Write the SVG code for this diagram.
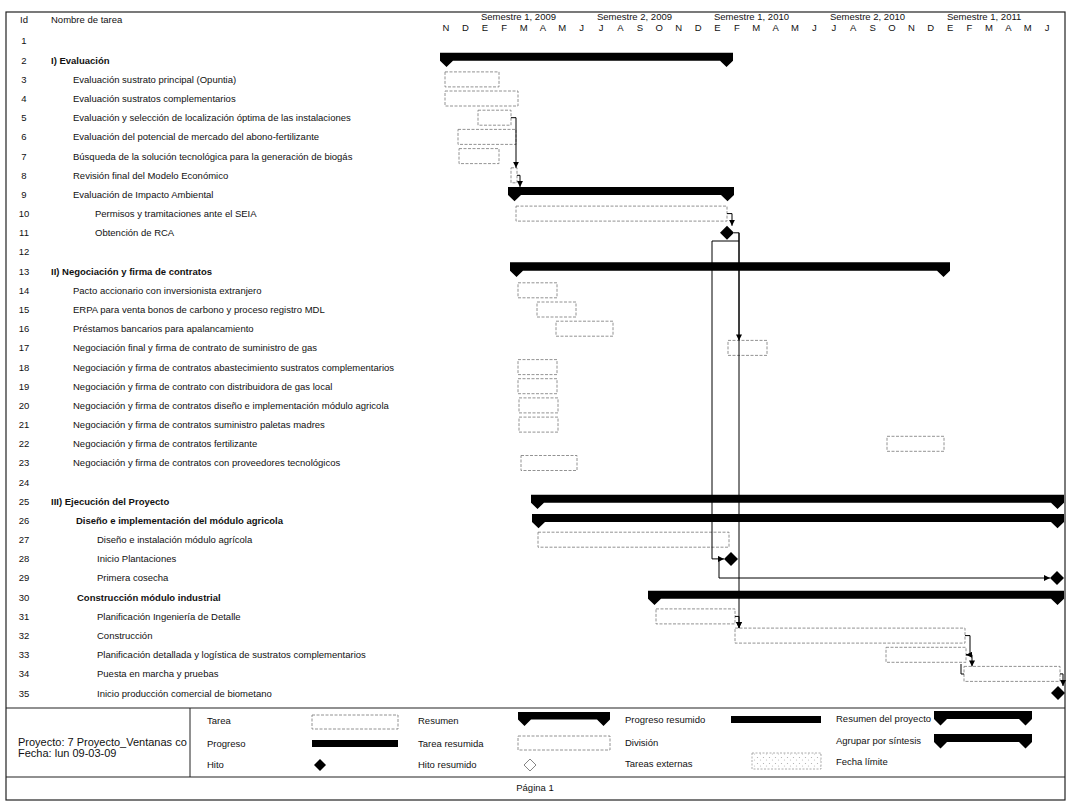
<svg xmlns="http://www.w3.org/2000/svg" width="1071" height="809" viewBox="0 0 1071 809">
<style>
.t{font-family:"Liberation Sans",Arial,sans-serif;font-size:9.5px;fill:#111}
.b{font-weight:bold}
.id{text-anchor:middle}
.hd{font-family:"Liberation Sans",Arial,sans-serif;font-size:9.5px;fill:#111}
.mo{font-family:"Liberation Sans",Arial,sans-serif;font-size:9.5px;fill:#111;text-anchor:middle}
.pj{font-family:"Liberation Sans",Arial,sans-serif;font-size:11px;fill:#111}
.task{fill:none;stroke:#777;stroke-width:0.8;stroke-dasharray:3 1.5}
.sum{fill:#000}
.ms{fill:#000}
.lnk{fill:none;stroke:#000;stroke-width:1}
.frame{fill:none;stroke:#222;stroke-width:1.2}
</style>
<defs>
<marker id="ar" viewBox="0 0 6 6" refX="6" refY="3" markerWidth="6" markerHeight="6" orient="auto" markerUnits="userSpaceOnUse"><path d="M0,0 L6,3 L0,6 z" fill="#000"/></marker>
<pattern id="hatch" width="6" height="6" patternUnits="userSpaceOnUse"><rect width="6" height="6" fill="#fff"/><circle cx="1.5" cy="1.5" r="0.6" fill="#aaa"/><circle cx="4.5" cy="4" r="0.6" fill="#bbb"/></pattern>
</defs>
<rect width="1071" height="809" fill="#fff"/>
<rect class="frame" x="6" y="12" width="1059" height="788"/>

<g id="header">
<text class="hd" x="20" y="23">Id</text>
<text class="hd" x="51" y="23">Nombre de tarea</text>
<text class="hd" x="481" y="20">Semestre 1, 2009</text>
<text class="hd" x="597" y="20">Semestre 2, 2009</text>
<text class="hd" x="714" y="20">Semestre 1, 2010</text>
<text class="hd" x="830" y="20">Semestre 2, 2010</text>
<text class="hd" x="947" y="20">Semestre 1, 2011</text>
<text class="mo" x="446" y="31">N</text><text class="mo" x="465.4" y="31">D</text><text class="mo" x="484.8" y="31">E</text><text class="mo" x="504.2" y="31">F</text><text class="mo" x="523.6" y="31">M</text><text class="mo" x="542.9" y="31">A</text><text class="mo" x="562.3" y="31">M</text><text class="mo" x="581.7" y="31">J</text>
<text class="mo" x="601.1" y="31">J</text><text class="mo" x="620.5" y="31">A</text><text class="mo" x="639.9" y="31">S</text><text class="mo" x="659.3" y="31">O</text><text class="mo" x="678.7" y="31">N</text><text class="mo" x="698.1" y="31">D</text>
<text class="mo" x="717.5" y="31">E</text><text class="mo" x="736.8" y="31">F</text><text class="mo" x="756.2" y="31">M</text><text class="mo" x="775.6" y="31">A</text><text class="mo" x="795" y="31">M</text><text class="mo" x="814.4" y="31">J</text>
<text class="mo" x="833.8" y="31">J</text><text class="mo" x="853.2" y="31">A</text><text class="mo" x="872.6" y="31">S</text><text class="mo" x="892" y="31">O</text><text class="mo" x="911.4" y="31">N</text><text class="mo" x="930.7" y="31">D</text>
<text class="mo" x="950.1" y="31">E</text><text class="mo" x="969.5" y="31">F</text><text class="mo" x="988.9" y="31">M</text><text class="mo" x="1008.3" y="31">A</text><text class="mo" x="1027.7" y="31">M</text><text class="mo" x="1047.1" y="31">J</text>
</g>

<g id="task-1"><text class="t id" x="24" y="44.4">1</text></g>
<g id="task-2"><text class="t id" x="24" y="63.6">2</text><text class="t b" x="51" y="63.6">I) Evaluación</text>
<path class="sum" d="M440,52.7 H733 V60.7 L726.5,67 L720,60.7 H453 L446.5,67 L440,60.7 Z"/></g>
<g id="task-3"><text class="t id" x="24" y="82.8">3</text><text class="t" x="73" y="82.8">Evaluación sustrato principal (Opuntia)</text><rect class="task" x="445" y="71.9" width="54" height="15"/></g>
<g id="task-4"><text class="t id" x="24" y="101.9">4</text><text class="t" x="73" y="101.9">Evaluación sustratos complementarios</text><rect class="task" x="445" y="91" width="73" height="15"/></g>
<g id="task-5"><text class="t id" x="24" y="121.1">5</text><text class="t" x="73" y="121.1">Evaluación y selección de localización óptima de las instalaciones</text><rect class="task" x="478" y="110.2" width="33" height="15"/></g>
<g id="task-6"><text class="t id" x="24" y="140.3">6</text><text class="t" x="73" y="140.3">Evaluación del potencial de mercado del abono-fertilizante</text><rect class="task" x="458" y="129.4" width="58" height="15"/></g>
<g id="task-7"><text class="t id" x="24" y="159.5">7</text><text class="t" x="73" y="159.5">Búsqueda de la solución tecnológica para la generación de biogás</text><rect class="task" x="459" y="148.6" width="40" height="15"/></g>
<g id="task-8"><text class="t id" x="24" y="178.7">8</text><text class="t" x="73" y="178.7">Revisión final del Modelo Económico</text><rect class="task" x="511" y="167.8" width="6" height="15"/></g>
<g id="task-9"><text class="t id" x="24" y="197.8">9</text><text class="t" x="73" y="197.8">Evaluación de Impacto Ambiental</text>
<path class="sum" d="M508,186.9 H734 V194.9 L727.5,201.2 L721,194.9 H521 L514.5,201.2 L508,194.9 Z"/></g>
<g id="task-10"><text class="t id" x="24" y="217">10</text><text class="t" x="95" y="217">Permisos y tramitaciones ante el SEIA</text><rect class="task" x="516" y="206.1" width="211" height="15"/></g>
<g id="task-11"><text class="t id" x="24" y="236.2">11</text><text class="t" x="95" y="236.2">Obtención de RCA</text><path class="ms" d="M727,225.8 L734,232.8 L727,239.8 L720,232.8 Z"/></g>
<g id="task-12"><text class="t id" x="24" y="255.4">12</text></g>
<g id="task-13"><text class="t id" x="24" y="274.6">13</text><text class="t b" x="51" y="274.6">II) Negociación y firma de contratos</text>
<path class="sum" d="M510,262.2 H950 V270.7 L943.5,277 L937,270.7 H523 L516.5,277 L510,270.7 Z"/></g>
<g id="task-14"><text class="t id" x="24" y="293.7">14</text><text class="t" x="73" y="293.7">Pacto accionario con inversionista extranjero</text><rect class="task" x="518" y="282.8" width="39" height="15"/></g>
<g id="task-15"><text class="t id" x="24" y="312.9">15</text><text class="t" x="73" y="312.9">ERPA para venta bonos de carbono y proceso registro MDL</text><rect class="task" x="537" y="302" width="39" height="15"/></g>
<g id="task-16"><text class="t id" x="24" y="332.1">16</text><text class="t" x="73" y="332.1">Préstamos bancarios para apalancamiento</text><rect class="task" x="556" y="321.2" width="57" height="15"/></g>
<g id="task-17"><text class="t id" x="24" y="351.3">17</text><text class="t" x="73" y="351.3">Negociación final y firma de contrato de suministro de gas</text><rect class="task" x="728" y="340.4" width="39" height="15"/></g>
<g id="task-18"><text class="t id" x="24" y="370.5">18</text><text class="t" x="73" y="370.5">Negociación y firma de contratos abastecimiento sustratos complementarios</text><rect class="task" x="518" y="359.6" width="39" height="15"/></g>
<g id="task-19"><text class="t id" x="24" y="389.6">19</text><text class="t" x="73" y="389.6">Negociación y firma de contrato con distribuidora de gas local</text><rect class="task" x="518" y="378.7" width="39" height="15"/></g>
<g id="task-20"><text class="t id" x="24" y="408.8">20</text><text class="t" x="73" y="408.8">Negociación y firma de contratos diseño e implementación módulo agricola</text><rect class="task" x="519" y="397.9" width="39" height="15"/></g>
<g id="task-21"><text class="t id" x="24" y="428">21</text><text class="t" x="73" y="428">Negociación y firma de contratos suministro paletas madres</text><rect class="task" x="519" y="417.1" width="39" height="15"/></g>
<g id="task-22"><text class="t id" x="24" y="447.2">22</text><text class="t" x="73" y="447.2">Negociación y firma de contratos fertilizante</text><rect class="task" x="887" y="436.3" width="57" height="15"/></g>
<g id="task-23"><text class="t id" x="24" y="466.4">23</text><text class="t" x="73" y="466.4">Negociación y firma de contratos con proveedores tecnológicos</text><rect class="task" x="521" y="455.5" width="56" height="15"/></g>
<g id="task-24"><text class="t id" x="24" y="485.5">24</text></g>
<g id="task-25"><text class="t id" x="24" y="504.7">25</text><text class="t b" x="51" y="504.7">III) Ejecución del Proyecto</text>
<path class="sum" d="M531,494.8 H1064 V502.8 L1057.5,509.1 L1051,502.8 H544 L537.5,509.1 L531,502.8 Z"/></g>
<g id="task-26"><text class="t id" x="24" y="523.9">26</text><text class="t b" x="76" y="523.9">Diseño e implementación del módulo agricola</text>
<path class="sum" d="M532,514 H1064 V522 L1057.5,528.3 L1051,522 H545 L538.5,528.3 L532,522 Z"/></g>
<g id="task-27"><text class="t id" x="24" y="543.1">27</text><text class="t" x="97" y="543.1">Diseño e instalación módulo agrícola</text><rect class="task" x="538" y="532.2" width="191" height="15"/></g>
<g id="task-28"><text class="t id" x="24" y="562.3">28</text><text class="t" x="97" y="562.3">Inicio Plantaciones</text><path class="ms" d="M731,551.9 L738,558.9 L731,565.9 L724,558.9 Z"/></g>
<g id="task-29"><text class="t id" x="24" y="581.4">29</text><text class="t" x="97" y="581.4">Primera cosecha</text><path class="ms" d="M1057,571 L1064,578 L1057,585 L1050,578 Z"/></g>
<g id="task-30"><text class="t id" x="24" y="600.6">30</text><text class="t b" x="77" y="600.6">Construcción módulo industrial</text>
<path class="sum" d="M648,590.7 H1064 V598.7 L1057.5,605 L1051,598.7 H661 L654.5,605 L648,598.7 Z"/></g>
<g id="task-31"><text class="t id" x="24" y="619.8">31</text><text class="t" x="97" y="619.8">Planificación Ingeniería de Detalle</text><rect class="task" x="656" y="608.9" width="79" height="15"/></g>
<g id="task-32"><text class="t id" x="24" y="639">32</text><text class="t" x="97" y="639">Construcción</text><rect class="task" x="735" y="628.1" width="230" height="15"/></g>
<g id="task-33"><text class="t id" x="24" y="658.2">33</text><text class="t" x="97" y="658.2">Planificación detallada y logística de sustratos complementarios</text><rect class="task" x="886" y="647.3" width="80" height="15"/></g>
<g id="task-34"><text class="t id" x="24" y="677.3">34</text><text class="t" x="97" y="677.3">Puesta en marcha y pruebas</text><rect class="task" x="964" y="666.4" width="96" height="15"/></g>
<g id="task-35"><text class="t id" x="24" y="696.5">35</text><text class="t" x="97" y="696.5">Inicio producción comercial de biometano</text><path class="ms" d="M1058,686 L1065,693 L1058,700 L1051,693 Z"/></g>

<g id="links">
<path class="lnk" d="M511,117.7 H516 V167.8" marker-end="url(#ar)"/>
<path class="lnk" d="M517,175.3 H520 V186.9" marker-end="url(#ar)"/>
<path class="lnk" d="M727,213.6 H732 V225.8" marker-end="url(#ar)"/>
<path class="lnk" d="M734,232.8 H739 V340.4" marker-end="url(#ar)"/>
<path class="lnk" d="M739,232.8 V628.1" marker-end="url(#ar)"/>
<path class="lnk" d="M739,241 H712 V558.9 H724" marker-end="url(#ar)"/>
<path class="lnk" d="M719,558.9 V578 H1050" marker-end="url(#ar)"/>
<path class="lnk" d="M735,616.4 H739 V628.1" marker-end="url(#ar)"/>
<path class="lnk" d="M965,635.6 H970 V654.8 H966" marker-end="url(#ar)"/>
<path class="lnk" d="M966,654.8 H972 V666.4" marker-end="url(#ar)"/>
<path class="lnk" d="M961,664 V674 H964"/>
<path class="lnk" d="M1060,673.9 H1063 V686" marker-end="url(#ar)"/>
</g>

<g id="legend">
<line x1="6" y1="708" x2="1065" y2="708" stroke="#222" stroke-width="1.2"/>
<line x1="190" y1="708" x2="190" y2="777" stroke="#222" stroke-width="1"/>
<line x1="6" y1="777" x2="1065" y2="777" stroke="#222" stroke-width="1.2"/>
<text class="pj" x="18" y="746">Proyecto: 7 Proyecto_Ventanas co</text>
<text class="pj" x="18" y="757">Fecha: lun 09-03-09</text>
<text class="t" x="207" y="724">Tarea</text>
<text class="t" x="207" y="747">Progreso</text>
<text class="t" x="207" y="768">Hito</text>
<rect class="task" x="312" y="715" width="86" height="14"/>
<rect x="312" y="740" width="86" height="7" fill="#000"/>
<path class="ms" d="M320,759 L326,765 L320,771 L314,765 Z"/>
<text class="t" x="418" y="724">Resumen</text>
<text class="t" x="418" y="747">Tarea resumida</text>
<text class="t" x="418" y="768">Hito resumido</text>
<path class="sum" d="M518,712 H610 V719.5 L603.5,726 L597,719.5 H531 L524.5,726 L518,719.5 Z"/>
<rect class="task" x="518" y="736" width="92" height="14"/>
<path d="M530,759 L536,765 L530,771 L524,765 Z" fill="#fff" stroke="#666" stroke-width="0.8"/>
<text class="t" x="625" y="723">Progreso resumido</text>
<text class="t" x="625" y="746">División</text>
<text class="t" x="625" y="767">Tareas externas</text>
<rect x="731" y="716" width="90" height="7" fill="#000"/>
<rect x="752" y="753" width="69" height="16" fill="url(#hatch)" stroke="#999" stroke-width="0.8" stroke-dasharray="2 1.5"/>
<text class="t" x="836" y="722">Resumen del proyecto</text>
<text class="t" x="836" y="744">Agrupar por síntesis</text>
<text class="t" x="836" y="765">Fecha límite</text>
<path class="sum" d="M934,711 H1032 V719 L1025.5,725.5 L1019,719 H947 L940.5,725.5 L934,719 Z"/>
<path class="sum" d="M934,734 H1032 V742 L1025.5,748.5 L1019,742 H947 L940.5,748.5 L934,742 Z"/>
<text class="t" x="535" y="791" text-anchor="middle">Página 1</text>
</g>
</svg>
